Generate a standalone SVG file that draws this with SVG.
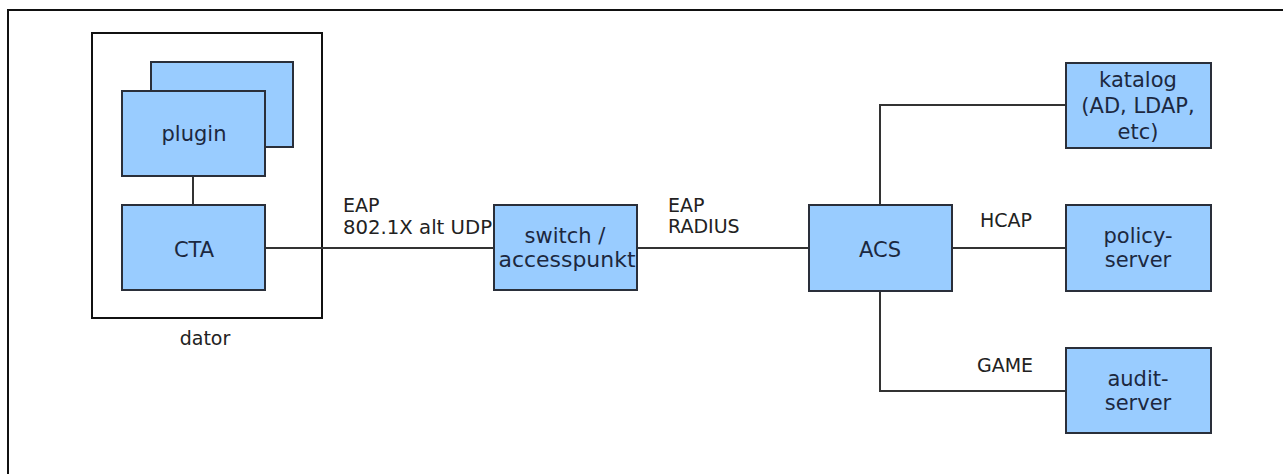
<svg xmlns="http://www.w3.org/2000/svg" width="1283" height="474" viewBox="0 0 1283 474">
<style>
.box{fill:#99ccff;stroke:#2a2f3a;stroke-width:2}
.frame{fill:none;stroke:#111;stroke-width:2}
.ln{fill:none;stroke:#333;stroke-width:2}
.t{font-family:"DejaVu Sans",sans-serif;font-size:21px;fill:#1c2840;text-anchor:middle}
.l{font-family:"DejaVu Sans",sans-serif;font-size:19px;fill:#222}
</style>
<rect width="1283" height="474" fill="#fff"/>
<path class="frame" d="M8,474 V10 H1283"/>
<g id="dator">
<rect class="frame" x="92" y="33" width="230" height="285"/>
<text class="l" x="205" y="345" text-anchor="middle" font-size="20">dator</text>
</g>
<g id="connectors">
<line class="ln" x1="193" y1="176" x2="193" y2="205"/>
<line class="ln" x1="265" y1="248" x2="494" y2="248"/>
<line class="ln" x1="637" y1="248" x2="809" y2="248"/>
<line class="ln" x1="952" y1="248" x2="1066" y2="248"/>
<path class="ln" d="M880,205 V105 H1066"/>
<path class="ln" d="M880,291 V391 H1066"/>
<text class="l" x="343" y="212">EAP</text>
<text class="l" x="343" y="234" textLength="149" lengthAdjust="spacingAndGlyphs">802.1X alt UDP</text>
<text class="l" x="668" y="212">EAP</text>
<text class="l" x="668" y="233">RADIUS</text>
<text class="l" x="980" y="227">HCAP</text>
<text class="l" x="977" y="372">GAME</text>
</g>
<g id="plugin-back"><rect class="box" x="151" y="62" width="142" height="85"/></g>
<g id="plugin"><rect class="box" x="122" y="91" width="143" height="85"/><text class="t" x="194" y="141">plugin</text></g>
<g id="cta"><rect class="box" x="122" y="205" width="143" height="85"/><text class="t" x="194" y="257">CTA</text></g>
<g id="switch"><rect class="box" x="494" y="205" width="143" height="85"/><text class="t" x="565" y="243">switch /</text><text class="t" x="567" y="267" textLength="137" lengthAdjust="spacingAndGlyphs">accesspunkt</text></g>
<g id="acs"><rect class="box" x="809" y="205" width="143" height="86"/><text class="t" x="880" y="257">ACS</text></g>
<g id="katalog"><rect class="box" x="1066" y="63" width="145" height="85"/><text class="t" x="1138" y="87">katalog</text><text class="t" x="1138" y="113">(AD, LDAP,</text><text class="t" x="1138" y="139">etc)</text></g>
<g id="policy"><rect class="box" x="1066" y="205" width="145" height="86"/><text class="t" x="1138" y="243">policy-</text><text class="t" x="1138" y="267">server</text></g>
<g id="audit"><rect class="box" x="1066" y="348" width="145" height="85"/><text class="t" x="1138" y="386">audit-</text><text class="t" x="1138" y="410">server</text></g>
</svg>
